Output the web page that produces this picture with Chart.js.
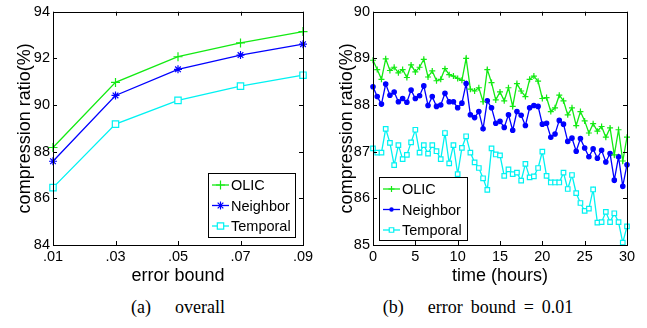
<!DOCTYPE html>
<html>
<head>
<meta charset="utf-8">
<script src="https://cdn.jsdelivr.net/npm/chart.js@4.4.1/dist/chart.umd.min.js"></script>
<style>
  body { margin: 0; background: #fff; }
  #wrap { position: relative; width: 647px; height: 328px; background: #fff; }
  canvas { position: absolute; top: 0; }
  .cap { position: absolute; top: 297px; font: 18px "Liberation Serif", serif; color: #000;
         white-space: nowrap; text-align: center; word-spacing: 3.5px; }
</style>
</head>
<body>
<div id="wrap">
  <canvas id="chartA" width="325" height="290" style="left:0"></canvas>
  <canvas id="chartB" width="322" height="290" style="left:325px"></canvas>
  <div class="cap" style="left:78px;width:200px">(a)&nbsp;&nbsp; overall</div>
  <div class="cap" style="left:378px;width:200px">(b)&nbsp;&nbsp; error bound = 0.01</div>
</div>
<script>
// (a) overall: ratio vs error bound
const bounds = ['.01', '.03', '.05', '.07', '.09'];
const olicA = [88.18, 90.97, 92.07, 92.66, 93.15];
const neighborA = [87.59, 90.41, 91.53, 92.14, 92.61];
const temporalA = [86.46, 89.18, 90.20, 90.81, 91.28];
const ticksA = [84, 86, 88, 90, 92, 94];

// (b) error bound = 0.01: ratio over time, one point per half hour
const hours = [0, 0.5, 1, 1.5, 2, 2.5, 3, 3.5, 4, 4.5, 5, 5.5, 6, 6.5, 7, 7.5, 8, 8.5, 9, 9.5,
  10, 10.5, 11, 11.5, 12, 12.5, 13, 13.5, 14, 14.5, 15, 15.5, 16, 16.5, 17, 17.5, 18, 18.5, 19, 19.5,
  20, 20.5, 21, 21.5, 22, 22.5, 23, 23.5, 24, 24.5, 25, 25.5, 26, 26.5, 27, 27.5, 28, 28.5, 29, 29.5, 30];
const olicB = [88.96, 88.76, 88.55, 88.99, 88.74, 88.81, 88.69, 88.76, 88.59, 88.86,
  88.71, 88.81, 88.98, 88.60, 88.73, 88.52, 88.55, 88.78, 88.65, 88.62,
  88.57, 88.53, 89.00, 88.34, 88.30, 88.37, 88.07, 88.76, 88.48, 88.11,
  88.28, 88.09, 88.37, 87.97, 88.46, 88.30, 88.18, 88.55, 88.62, 88.51,
  88.14, 88.16, 87.86, 87.94, 88.21, 88.09, 87.79, 87.94, 87.56, 87.86,
  87.66, 87.40, 87.60, 87.44, 87.54, 87.31, 87.51, 86.93, 87.47, 86.80, 87.31];
const neighborB = [88.39, 88.18, 88.02, 88.45, 88.21, 88.28, 88.07, 88.14, 88.06, 88.32,
  88.14, 88.20, 88.41, 87.99, 88.18, 87.97, 88.00, 88.25, 88.07, 88.07,
  87.94, 88.04, 88.46, 87.79, 87.73, 87.86, 87.49, 88.09, 87.94, 87.61,
  87.65, 87.52, 87.79, 87.46, 87.86, 87.78, 87.56, 87.94, 87.99, 87.97,
  87.59, 87.61, 87.31, 87.38, 87.67, 87.59, 87.22, 87.29, 87.01, 87.28,
  87.08, 86.89, 87.06, 86.86, 87.03, 86.78, 86.96, 86.39, 86.89, 86.26, 86.72];
const temporalB = [87.07, 86.98, 86.98, 87.49, 87.19, 86.71, 87.14, 86.84, 86.93, 87.20,
  87.47, 86.98, 87.14, 86.96, 87.14, 87.01, 86.84, 87.40, 86.75, 87.14,
  86.52, 87.08, 87.33, 86.98, 86.77, 86.65, 86.43, 86.18, 87.07, 86.94,
  86.92, 86.48, 86.62, 86.52, 86.55, 86.38, 86.74, 86.45, 86.47, 86.65,
  87.00, 86.48, 86.34, 86.34, 86.34, 86.55, 86.20, 86.50, 86.11, 85.90,
  85.73, 85.78, 86.19, 85.48, 85.49, 85.71, 85.49, 85.68, 85.49, 85.05, 85.40];
const ticksB = [85, 86, 87, 88, 89, 90];

const GREEN = '#13ea13', BLUE = '#0000ff', CYAN = '#00f2f2';
const SANS = '"Liberation Sans", Arial, sans-serif';

// draw one marker, used for the in-plot legend
function marker(ctx, style, x, y, r, color) {
  ctx.save();
  ctx.strokeStyle = color; ctx.fillStyle = color; ctx.lineWidth = 1.2;
  ctx.beginPath();
  if (style === 'cross') {
    ctx.moveTo(x - r, y); ctx.lineTo(x + r, y); ctx.moveTo(x, y - r); ctx.lineTo(x, y + r);
    ctx.stroke();
  } else if (style === 'star') {
    for (let k = 0; k < 4; k++) {
      const a = k * Math.PI / 4;
      ctx.moveTo(x - r * Math.cos(a), y - r * Math.sin(a));
      ctx.lineTo(x + r * Math.cos(a), y + r * Math.sin(a));
    }
    ctx.stroke();
  } else if (style === 'rect') {
    const s = r * Math.SQRT1_2;
    ctx.fillStyle = '#fff';
    ctx.rect(x - s, y - s, 2 * s, 2 * s); ctx.fill(); ctx.stroke();
  } else {
    ctx.arc(x, y, r, 0, Math.PI * 2); ctx.fill();
  }
  ctx.restore();
}

// MATLAB-looking box: frame, inward ticks on all sides, legend inside the axes
const matlabBox = {
  id: 'matlabBox',
  afterDraw(chart, args, opts) {
    const {ctx, chartArea: a, scales} = chart;
    ctx.save();
    ctx.strokeStyle = '#000';
    ctx.lineWidth = 1;
    ctx.strokeRect(Math.round(a.left) + 0.5, Math.round(a.top) + 0.5,
      Math.round(a.right - a.left), Math.round(a.bottom - a.top));
    const t = 4;
    ctx.beginPath();
    scales.x.ticks.forEach((tk, i) => {
      const px = Math.round(scales.x.getPixelForTick(i)) + 0.5;
      ctx.moveTo(px, a.bottom); ctx.lineTo(px, a.bottom - t);
      ctx.moveTo(px, a.top); ctx.lineTo(px, a.top + t);
    });
    scales.y.ticks.forEach((tk, i) => {
      const py = Math.round(scales.y.getPixelForTick(i)) + 0.5;
      ctx.moveTo(a.left, py); ctx.lineTo(a.left + t, py);
      ctx.moveTo(a.right, py); ctx.lineTo(a.right - t, py);
    });
    ctx.stroke();

    // legend
    const L = opts.legend;
    const bx = L.fromRight ? a.right - L.dx - L.w : a.left + L.dx;
    const by = a.bottom - L.dy - L.h;
    ctx.fillStyle = '#fff';
    ctx.fillRect(bx, by, L.w, L.h);
    ctx.strokeStyle = '#000';
    ctx.lineWidth = 1;
    ctx.strokeRect(Math.round(bx) + 0.5, Math.round(by) + 0.5, L.w, L.h);
    ctx.font = '14.5px ' + SANS;
    ctx.textBaseline = 'middle';
    ctx.fillStyle = '#000';
    chart.data.datasets.forEach((ds, i) => {
      const y = by + 12 + i * 20.5;
      ctx.strokeStyle = ds.borderColor;
      ctx.lineWidth = 1.3;
      ctx.beginPath(); ctx.moveTo(bx + 4, y); ctx.lineTo(bx + 21, y); ctx.stroke();
      marker(ctx, ds.pointStyle, bx + 12.5, y, ds.pointRadius, ds.borderColor);
      ctx.fillStyle = '#000';
      ctx.fillText(ds.label, bx + 23, y + 1);
    });
    ctx.restore();
  }
};

function axisFont(size) { return {family: SANS, size: size}; }

function series(label, data, color, style, radius) {
  return {
    label: label, data: data, borderColor: color, backgroundColor: style === 'rect' ? '#fff' : color,
    pointStyle: style, pointRadius: radius, pointBorderWidth: 1.2, pointHoverRadius: radius,
    borderWidth: 1.3, tension: 0, clip: false
  };
}

function baseOptions(pad, yWidth, yTitlePad, legend, xScale, yScale) {
  return {
    responsive: false, animation: false, devicePixelRatio: 1,
    layout: {padding: pad},
    plugins: {legend: {display: false}, tooltip: {enabled: false}, matlabBox: {legend: legend}},
    scales: {
      x: Object.assign({
        grid: {display: false, drawTicks: false}, border: {display: false},
        ticks: {color: '#000', font: axisFont(14.5), padding: 3, maxRotation: 0, autoSkip: false},
        afterFit(s) { s.height = 45; }
      }, xScale),
      y: Object.assign({
        grid: {display: false, drawTicks: false}, border: {display: false},
        ticks: {color: '#000', font: axisFont(14.5), padding: 3},
        title: {display: true, text: 'compression ratio(%)', color: '#000', font: axisFont(18),
                padding: {top: yTitlePad, bottom: 0}},
        afterFit(s) { s.width = yWidth; }
      }, yScale)
    }
  };
}

new Chart(document.getElementById('chartA'), {
  type: 'line',
  data: {
    labels: bounds,
    datasets: [
      series('OLIC', olicA, GREEN, 'cross', 4.5),
      series('Neighbor', neighborA, BLUE, 'star', 4),
      series('Temporal', temporalA, CYAN, 'rect', 4.5)
    ]
  },
  options: baseOptions({left: 0, right: 22, top: 9, bottom: 0}, 53, 14,
    {fromRight: true, dx: 8, dy: 8, w: 87, h: 64},
    {type: 'category', offset: false,
     title: {display: true, text: 'error bound', color: '#000', font: axisFont(18), padding: {top: 0, bottom: 3}}},
    {min: ticksA[0], max: ticksA[ticksA.length - 1],
     afterBuildTicks(s) { s.ticks = ticksA.map(v => ({value: v})); }}),
  plugins: [matlabBox]
});

function pts(ys) { return ys.map((y, i) => ({x: hours[i], y: y})); }

new Chart(document.getElementById('chartB'), {
  type: 'line',
  data: {
    datasets: [
      series('OLIC', pts(olicB), GREEN, 'cross', 3),
      series('Neighbor', pts(neighborB), BLUE, 'circle', 2.2),
      series('Temporal', pts(temporalB), CYAN, 'rect', 3.2)
    ]
  },
  options: baseOptions({left: 0, right: 20, top: 9, bottom: 0}, 48, 11,
    {fromRight: false, dx: 6, dy: 5, w: 88, h: 63},
    {type: 'linear', min: 0, max: 30,
     ticks: {color: '#000', font: axisFont(14.5), padding: 3, maxRotation: 0, stepSize: 5},
     title: {display: true, text: 'time (hours)', color: '#000', font: axisFont(18), padding: {top: 0, bottom: 3}}},
    {min: ticksB[0], max: ticksB[ticksB.length - 1],
     afterBuildTicks(s) { s.ticks = ticksB.map(v => ({value: v})); }}),
  plugins: [matlabBox]
});
</script>
</body>
</html>
